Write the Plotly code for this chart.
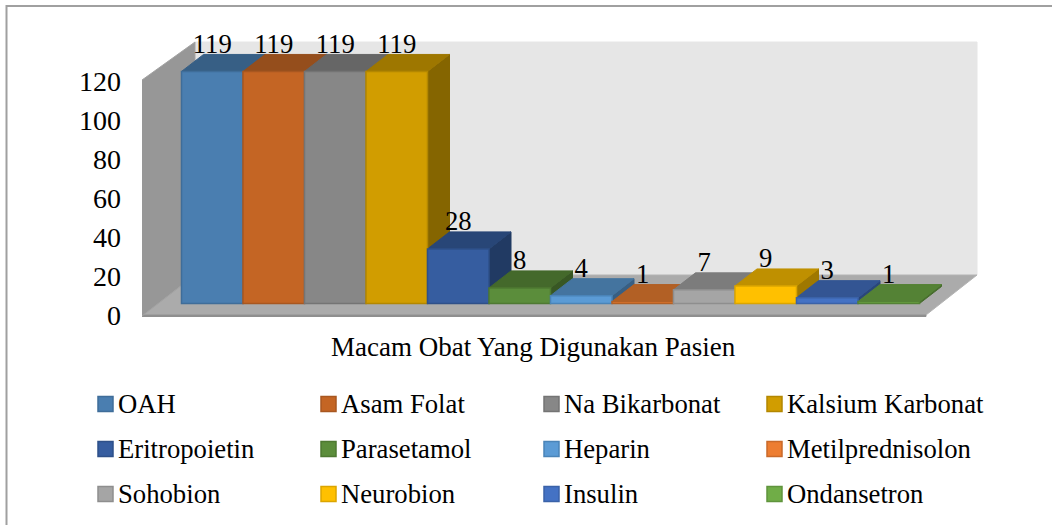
import plotly.graph_objects as go

names = ["OAH", "Asam Folat", "Na Bikarbonat", "Kalsium Karbonat",
         "Eritropoietin", "Parasetamol", "Heparin", "Metilprednisolon",
         "Sohobion", "Neurobion", "Insulin", "Ondansetron"]
values = [119, 119, 119, 119, 28, 8, 4, 1, 7, 9, 3, 1]
front = ["#4A7EB0", "#C46524", "#878787", "#D19D00", "#365DA0", "#5B8D3B",
         "#5B9BD5", "#ED7D31", "#A5A5A5", "#FFC000", "#4472C4", "#70AD47"]
top = ["#375F85", "#954E1C", "#666666", "#9E7700", "#284677", "#44692B",
       "#44749F", "#B26025", "#7C7C7C", "#BF9000", "#335593", "#548235"]
side = ["#2E4F6E", "#7C4117", "#555555", "#856500", "#213A63", "#385724",
        "#385F83", "#94501E", "#676767", "#9F7800", "#2A477A", "#466C2C"]
edge = ["#3F6D99", "#A85720", "#747474", "#B38700", "#2E5089", "#4E7932",
        "#4A84B8", "#C96A2A", "#8E8E8E", "#DBA500", "#3A62A8", "#5F943C"]
yticks = [0, 20, 40, 60, 80, 100, 120]
axis_title = "Macam Obat Yang Digunakan Pasien"

W, H = 1052, 525
FONT = "Liberation Serif"
FS = 26.7
PX_X = 61.5      # pixels per bar slot
PX_Y = 1.95      # pixels per value unit
X0 = 181.5       # pixel of left edge of first bar
Y0 = 315         # pixel of value 0 on the front of the wall

def xu(px):
    return px / PX_X
def yu(px):
    return px / PX_Y

BASE = yu(11.5)  # bars stand this far up from the axis zero
DX, DY = xu(22), yu(17)      # bar depth

fig = go.Figure()

def poly(xs, ys, color, line=None):
    fig.add_trace(go.Scatter(x=xs, y=ys, fill="toself", mode="lines", fillcolor=color,
                             line=dict(color=line or color, width=1),
                             showlegend=False, hoverinfo="skip"))

# chamber: positions in slot/value units, relative to first bar and axis zero
wl, wr = xu(142 - X0), xu(195 - X0)
fr, br = xu(926 - X0), xu(977 - X0)
poly([wr, br, br, wr], [yu(40), yu(40), yu(273), yu(273)], "#E6E6E6")            # back wall
poly([wl, fr, br, wr], [0, 0, yu(40), yu(40)], "#ABABAB", "#B4B4B4")             # floor
poly([wl, fr, fr, wl], [0, 0, yu(-1.5), yu(-1.5)], "#8F8F8F")                    # floor lip
poly([wl, wr, wr, wl], [yu(-1), yu(40), yu(273), yu(235)], "#979797", "#A3A3A3") # left wall

# side and top faces, drawn left to right so later bars overlap
for i, v in enumerate(values):
    t = BASE + v
    poly([i + 1, i + 1 + DX, i + 1 + DX, i + 1], [BASE, BASE + DY, t + DY, t], side[i])
    poly([i, i + DX, i + 1 + DX, i + 1], [t, t + DY, t + DY, t], top[i])

# front faces: real bars on an overlaid axis pair, so they sit above the polygons
for i, v in enumerate(values):
    fig.add_trace(go.Bar(x=[i + 0.5], y=[v], base=[BASE], width=[1], name=names[i],
                         xaxis="x2", yaxis="y2",
                         marker=dict(color=front[i],
                                     line=dict(color=top[i] if v <= 1 else edge[i], width=1.5)),
                         showlegend=False))

# data labels
fig.add_trace(go.Scatter(x=[i + 0.5 for i in range(len(values))],
                         y=[BASE + v + yu(25.5) for v in values],
                         text=[str(v) for v in values], mode="text",
                         textposition="middle center", xaxis="x2", yaxis="y2",
                         textfont=dict(family=FONT, size=FS, color="#000000"),
                         showlegend=False, hoverinfo="skip"))

# legend built in three rows of four, to keep the original tight swatch spacing
legend_cols = [98, 321, 544, 767]
legend_rows = [404, 449, 494]
shapes, annos = [], []
for i, n in enumerate(names):
    c, r = legend_cols[i % 4], legend_rows[i // 4]
    shapes.append(dict(type="rect", xref="paper", yref="paper",
                       x0=c / W, x1=(c + 15) / W, y0=1 - (r - 7.5) / H, y1=1 - (r + 7.5) / H,
                       fillcolor=front[i], line=dict(color=edge[i], width=1.5)))
    annos.append(dict(text=n, xref="paper", yref="paper", x=(c + 18) / W, y=1 - r / H,
                      xanchor="left", yanchor="middle", showarrow=False,
                      font=dict(family=FONT, size=FS, color="#000000")))
annos.append(dict(text=axis_title, xref="paper", yref="paper", x=533.5 / W, y=1 - 347 / H,
                  xanchor="center", yanchor="middle", showarrow=False,
                  font=dict(family=FONT, size=27, color="#000000")))
# chart frame: only the top and left edges show in the reference
fx, fy = 6.5 / W, 1 - 6 / H
shapes.append(dict(type="path", xref="paper", yref="paper",
                   path=f"M {fx},0 L {fx},{fy} L 1,{fy}",
                   line=dict(color="#A0A0A0", width=2)))

x_range = [xu(-X0), xu(W - X0)]
y_range = [yu(Y0 - H), yu(Y0)]
fig.update_layout(
    width=W, height=H, margin=dict(l=0, r=0, t=0, b=0),
    paper_bgcolor="#FFFFFF", plot_bgcolor="rgba(0,0,0,0)",
    showlegend=False, barmode="overlay", shapes=shapes, annotations=annos,
    xaxis=dict(range=x_range, visible=False, fixedrange=True),
    yaxis=dict(range=y_range, tickmode="array", tickvals=yticks,
               ticks="", showgrid=False, zeroline=False, showline=False,
               anchor="free", position=121 / W, side="left",
               tickfont=dict(family=FONT, size=28, color="#000000"), fixedrange=True),
    xaxis2=dict(range=x_range, visible=False, overlaying="x", fixedrange=True),
    yaxis2=dict(range=y_range, visible=False, overlaying="y", fixedrange=True),
)
fig.write_html("out.html", config={"displayModeBar": False}, post_script=(
    "document.body.style.margin='0';document.body.style.overflow='hidden';"
    "window.dispatchEvent(new Event('resize'));"))
